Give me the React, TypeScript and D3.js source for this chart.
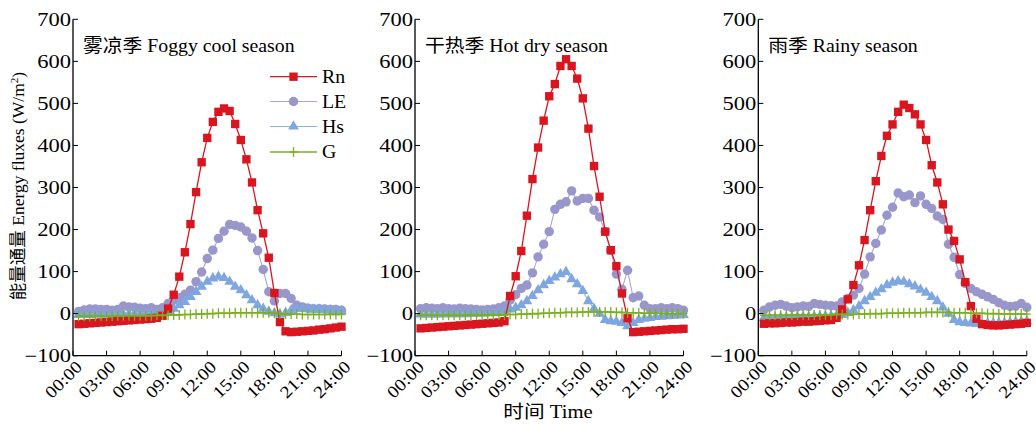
import React from "react";
import * as d3 from "d3";

// half-hourly values, 00:30 .. 24:00 (W/m2)
const hours = d3.range(1, 49).map((i) => i * 0.5);

const foggyRn = [-25, -24, -23, -22, -21, -20, -19, -18, -17, -16, -15, -14, -13, -12, -10, -5,
  12, 45, 88, 146, 213, 289, 360, 418, 456, 480, 488, 482, 451, 413, 367, 312, 246, 191, 133, 49,
  -20, -42, -44, -43, -42, -41, -40, -38, -37, -35, -33, -31];
const foggyLE = [5, 9, 11, 11, 10, 10, 8, 10, 18, 16, 15, 13, 12, 14, 10, 14,
  24, 32, 38, 46, 56, 76, 99, 131, 151, 179, 196, 212, 210, 206, 196, 180, 150, 105, 52, 30,
  48, 48, 36, 20, 16, 13, 12, 12, 11, 10, 10, 8];
const foggyHs = [-3, -3, -3, -2, -2, -2, -2, -2, -2, -1, -1, -1, -1, 0, 0,
  2, 6, 12, 20, 28, 40, 52, 64, 76, 84, 88, 85, 76, 64, 56, 44, 32, 20, 12, 5, 1, -2,
  2, 8, 12, 12, 11, 10, 10, 9, 8, 7, 6];
const foggyG = [-6, -6, -6, -6, -6, -6, -6, -5, -5, -5, -5, -5, -5, -5, -4, -4,
  -4, -3, -3, -2, -2, -1, -1, 0, 0, 1, 1, 1, 2, 2, 2, 2, 2, 2, 2, 1,
  0, -1, -1, -1, -2, -2, -2, -2, -2, -2, -2, -2];

const dryRn = [-35, -34, -33, -32, -31, -30, -29, -28, -27, -26, -25, -24, -23, -22, -21, -18,
  42, 89, 149, 233, 320, 395, 459, 517, 546, 589, 605, 589, 559, 512, 440, 351, 278, 195, 151, 113,
  48, -11, -44, -43, -42, -41, -40, -39, -38, -37, -37, -36];
const dryLE = [12, 14, 13, 12, 14, 12, 11, 13, 12, 11, 10, 9, 10, 11, 14, 18,
  32, 45, 60, 68, 97, 135, 165, 195, 248, 260, 266, 292, 268, 274, 274, 246, 230, 195, 150, 94,
  58, 103, 38, 42, 20, 12, 12, 14, 12, 14, 12, 8];
const dryHs = [-2, -2, -2, -2, -1, -1, -1, -1, -1, 0, 0, 0, 1, 1,
  2, 5, 10, 14, 20, 30, 42, 56, 68, 78, 86, 94, 99, 82, 70, 54, 30, 12, 0, -15, -18, -19,
  -22, -30, -22, -15, -12, -10, -8, -7, -6, -5, -4, -3];
const dryG = [-4, -4, -4, -4, -4, -4, -4, -4, -4, -3, -3, -3, -3, -3, -3, -3,
  -2, -2, -1, -1, 0, 0, 1, 1, 2, 2, 3, 3, 3, 4, 4, 4, 4, 4, 4, 3,
  3, 2, 2, 2, 1, 1, 1, 1, 0, 0, 0, 0];

const rainyRn = [-24, -23, -23, -22, -21, -21, -20, -19, -19, -18, -17, -16, -15, -10, 10, 34,
  68, 115, 175, 246, 315, 375, 423, 450, 480, 497, 489, 474, 450, 413, 353, 312, 260, 200, 173, 129,
  75, 18, -12, -25, -27, -28, -28, -27, -26, -25, -24, -22];
const rainyLE = [8, 16, 20, 22, 18, 14, 16, 18, 17, 24, 22, 20, 19, 18, 28, 36,
  44, 60, 94, 135, 167, 199, 234, 253, 287, 278, 282, 264, 280, 260, 250, 232, 224, 165, 134, 93,
  72, 60, 52, 46, 40, 34, 26, 20, 17, 18, 24, 15];
const rainyHs = [-10, -10, -10, -9, -9, -9, -8, -8, -8, -7, -7, -6, -6, -5, -3, 2,
  8, 18, 30, 40, 50, 58, 68, 74, 77, 76, 70, 65, 57, 50, 40, 30, 15, 0, -15, -20,
  -22, -23, -24, -24, -23, -23, -22, -22, -21, -20, -19, -18];
const rainyG = [-4, -4, -4, -4, -4, -3, -3, -3, -3, -3, -3, -3, -3, -2, -2, -2,
  -2, -1, -1, 0, 0, 0, 1, 1, 1, 2, 2, 2, 2, 3, 3, 3, 3, 3, 2, 2,
  2, 1, 1, 1, 0, 0, 0, -1, -1, -1, -1, -1];

const seasons = ["雾凉季 Foggy cool season", "干热季 Hot dry season", "雨季 Rainy season"];
const seriesNames = ["Rn", "LE", "Hs", "G"];
const yTicks = [-100, 0, 100, 200, 300, 400, 500, 600, 700];
const xTicks = [0, 3, 6, 9, 12, 15, 18, 21, 24];
const xTickLabels = ["00:00", "03:00", "06:00", "09:00", "12:00", "15:00", "18:00", "21:00", "24:00"];

const panelData = [
  [foggyRn, foggyLE, foggyHs, foggyG],
  [dryRn, dryLE, dryHs, dryG],
  [rainyRn, rainyLE, rainyHs, rainyG],
];

const styles = {
  Rn: { line: "#D9161F", fill: "#D9161F", sym: d3.symbolSquare, size: 70, lw: 1.3 },
  LE: { line: "#A7A5D6", fill: "#9896CB", sym: d3.symbolCircle, size: 70, lw: 1.1 },
  Hs: { line: "#8DB0E6", fill: "#7EA6E0", sym: d3.symbolTriangle, size: 50, lw: 1.1 },
  G: { line: "#7BAF21", fill: "#7BAF21", sym: null, size: 0, lw: 1.6 },
};

const FONT = "'Liberation Serif', 'Times New Roman', 'Noto Sans CJK SC', serif";
const panelLeft = [73, 415, 758.3];
const panelW = 268.5;
const top = 19.3;
const bottom = 355.7;

function Marker({ name, x, y }) {
  const s = styles[name];
  if (name === "G") {
    return (
      <g stroke={s.line} strokeWidth={1.3}>
        <line x1={x - 4} x2={x + 4} y1={y} y2={y} />
        <line x1={x} x2={x} y1={y - 5} y2={y + 5} />
      </g>
    );
  }
  const path = d3.symbol().type(s.sym).size(s.size)();
  return <path d={path} transform={`translate(${x},${y})`} fill={s.fill} />;
}

function Panel({ idx }) {
  const x0 = panelLeft[idx];
  const x = d3.scaleLinear().domain([0, 24]).range([x0, x0 + panelW]);
  const y = d3.scaleLinear().domain([-100, 700]).range([bottom, top]);
  const line = d3.line().x((d) => x(d[0])).y((d) => y(d[1]));
  const order = [1, 2, 0, 3];

  return (
    <g>
      {order.map((k) => {
        const name = seriesNames[k];
        const pts = hours.map((h, i) => [h, panelData[idx][k][i]]);
        return (
          <g key={name}>
            <path d={line(pts)} fill="none" stroke={styles[name].line} strokeWidth={styles[name].lw} />
            {pts.map((p, i) => (
              <Marker key={i} name={name} x={x(p[0])} y={y(p[1])} />
            ))}
          </g>
        );
      })}

      {/* axes */}
      <line x1={x0} x2={x0} y1={top} y2={bottom} stroke="#000" strokeWidth={1.3} />
      <line x1={x0} x2={x0 + panelW} y1={bottom} y2={bottom} stroke="#000" strokeWidth={1.3} />
      {yTicks.map((t) => (
        <g key={t}>
          <line x1={x0} x2={x0 + 5} y1={y(t)} y2={y(t)} stroke="#000" strokeWidth={1} />
          <text
            transform={`translate(${x0 - 2},${y(t)}) scale(1.25,1)`}
            dy="0.35em"
            textAnchor="end"
            fontSize={18}
            fontFamily={FONT}
          >
            {t < 0 ? "\u2212" + Math.abs(t) : t}
          </text>
        </g>
      ))}
      {xTicks.map((t, i) => (
        <g key={t}>
          <line x1={x(t)} x2={x(t)} y1={bottom} y2={bottom - 5} stroke="#000" strokeWidth={1} />
          <text
            transform={`translate(${x(t) + 6},${bottom + 8}) rotate(-45) scale(1.15,1)`}
            dy="0.35em"
            textAnchor="end"
            fontSize={17}
            fontFamily={FONT}
          >
            {xTickLabels[i]}
          </text>
        </g>
      ))}
      <text transform={`translate(${x0 + 10},52) scale(1.1,1)`} fontSize={18} fontFamily={FONT}>
        {seasons[idx]}
      </text>
    </g>
  );
}

function Legend() {
  const rows = [76.7, 101.5, 126.5, 152];
  return (
    <g>
      {seriesNames.map((n, i) => (
        <g key={n}>
          <line x1={270} x2={317} y1={rows[i]} y2={rows[i]} stroke={styles[n].line} strokeWidth={styles[n].lw} />
          <Marker name={n} x={293.5} y={rows[i]} />
          <text transform={`translate(322,${rows[i]}) scale(1.1,1)`} dy="0.35em" fontSize={18} fontFamily={FONT}>
            {n}
          </text>
        </g>
      ))}
    </g>
  );
}

export default function App() {
  return (
    <svg width={1036} height={425} style={{ position: "absolute", left: 0, top: 0, background: "#fff" }}>
      <rect width={1036} height={425} fill="#fff" />
      {[0, 1, 2].map((i) => (
        <Panel key={i} idx={i} />
      ))}
      <Legend />
      <text
        transform="translate(18,186) rotate(-90)"
        textAnchor="middle"
        dy="0.35em"
        fontSize={17.5}
        fontFamily={FONT}
      >
        能量通量 Energy fluxes (W/m
        <tspan baselineShift="super" fontSize={11}>2</tspan>)
      </text>
      <text transform="translate(548,418) scale(1.15,1)" textAnchor="middle" fontSize={18} fontFamily={FONT}>
        时间 Time
      </text>
    </svg>
  );
}
